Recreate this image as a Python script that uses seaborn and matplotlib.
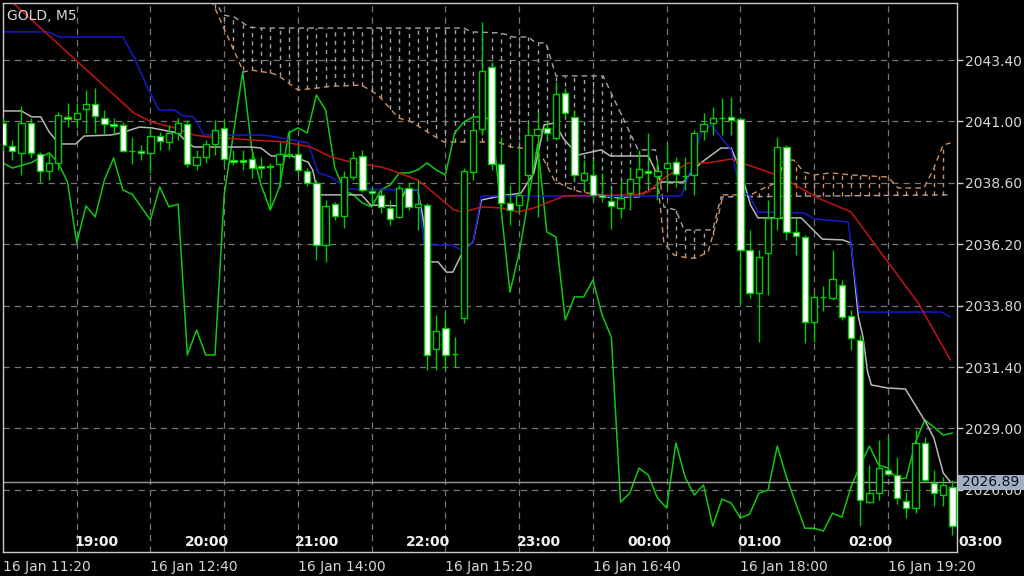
import matplotlib
matplotlib.use("Agg")
import matplotlib.pyplot as plt
import matplotlib.transforms as mtransforms
from matplotlib.patches import Rectangle
import numpy as np
import pandas as pd
import seaborn as sns

# ──────────────────────────────────────────────
# Data (one entry per 5-minute bar)
# ──────────────────────────────────────────────
opens = [2040.94, 2040.04, 2039.77, 2040.94, 2039.73, 2039.06, 2039.38, 2041.18, 2041.10, 2041.49,
         2041.68, 2041.14, 2040.90, 2040.86, 2039.85, 2039.85, 2039.77, 2040.43, 2040.20, 2040.55,
         2040.90, 2039.30, 2039.61, 2040.12, 2040.75, 2039.49, 2039.49, 2039.53, 2039.26, 2039.26,
         2039.34, 2039.69, 2039.73, 2039.06, 2038.59, 2036.17, 2037.77, 2037.30, 2038.83, 2039.65,
         2038.28, 2038.13, 2037.62, 2037.27, 2038.40, 2037.66, 2037.73, 2032.10, 2032.93, 2031.91,
         2033.32, 2039.02, 2040.71, 2043.13, 2039.34, 2037.81, 2037.73, 2038.91, 2040.47, 2040.75,
         2040.35, 2042.11, 2041.18, 2038.71, 2038.91, 2038.13, 2037.89, 2037.62, 2038.20, 2038.83,
         2039.06, 2038.87, 2039.18, 2039.41, 2038.87, 2038.91, 2040.63, 2040.94, 2041.14, 2041.18,
         2041.10, 2035.98, 2034.29, 2035.86, 2037.23, 2040.00, 2036.68, 2036.48, 2033.16, 2034.14,
         2034.10, 2034.61, 2033.39, 2032.46, 2026.12, 2026.47, 2027.37, 2027.18, 2026.16, 2025.89,
         2028.43, 2026.86, 2026.40, 2026.71]
highs = [2041.14, 2040.28, 2041.61, 2041.14, 2039.81, 2039.77, 2041.37, 2041.72, 2041.72, 2042.23,
         2042.31, 2041.45, 2041.14, 2040.98, 2040.39, 2040.08, 2040.75, 2040.59, 2040.86, 2041.14,
         2041.06, 2039.89, 2040.28, 2041.06, 2041.06, 2039.89, 2039.89, 2039.81, 2039.61, 2039.38,
         2040.20, 2040.67, 2040.08, 2039.18, 2038.71, 2037.93, 2037.85, 2039.06, 2039.85, 2039.89,
         2038.44, 2038.36, 2037.93, 2038.52, 2038.63, 2038.71, 2037.81, 2033.43, 2033.55, 2032.57,
         2039.18, 2041.14, 2044.89, 2043.33, 2040.39, 2038.52, 2039.96, 2040.94, 2041.37, 2040.98,
         2042.54, 2042.31, 2041.45, 2039.49, 2039.49, 2038.99, 2038.40, 2038.71, 2039.22, 2039.89,
         2040.55, 2039.49, 2040.08, 2039.61, 2039.61, 2040.67, 2041.33, 2041.57, 2041.92, 2041.96,
         2041.18, 2036.76, 2035.98, 2037.93, 2040.39, 2040.08, 2037.23, 2036.56, 2034.29, 2034.57,
         2035.98, 2034.80, 2033.63, 2032.65, 2027.57, 2028.55, 2028.66, 2027.88, 2026.51, 2028.94,
         2028.66, 2027.37, 2027.10, 2026.98]
lows = [2039.89, 2039.49, 2038.91, 2039.57, 2038.59, 2038.71, 2039.10, 2040.78, 2040.75, 2040.55,
        2040.55, 2040.47, 2040.47, 2039.81, 2039.34, 2039.49, 2038.99, 2039.89, 2039.89, 2040.28,
        2039.22, 2039.10, 2039.38, 2039.69, 2039.30, 2039.30, 2039.10, 2038.79, 2038.79, 2037.54,
        2038.44, 2039.57, 2038.91, 2038.48, 2035.59, 2035.51, 2037.15, 2036.84, 2038.71, 2038.24,
        2037.73, 2037.42, 2036.95, 2037.23, 2037.54, 2036.76, 2031.28, 2031.28, 2031.28, 2031.40,
        2033.12, 2038.71, 2040.47, 2039.10, 2037.54, 2036.95, 2037.46, 2037.93, 2037.27, 2040.28,
        2040.28, 2041.14, 2038.71, 2038.32, 2037.93, 2037.85, 2036.80, 2037.23, 2037.54, 2038.13,
        2038.44, 2037.93, 2038.44, 2038.44, 2038.32, 2038.13, 2040.28, 2040.47, 2040.47, 2040.47,
        2033.82, 2034.10, 2032.38, 2034.22, 2036.76, 2036.37, 2035.78, 2032.34, 2032.38, 2033.59,
        2034.02, 2033.24, 2032.07, 2025.18, 2026.08, 2026.20, 2027.14, 2026.04, 2025.50, 2025.69,
        2026.90, 2025.97, 2025.97, 2024.83]
closes = [2040.08, 2039.85, 2040.94, 2039.77, 2039.06, 2039.38, 2041.25, 2041.10, 2041.33, 2041.68,
          2041.22, 2040.90, 2040.82, 2039.85, 2039.85, 2039.77, 2040.43, 2040.24, 2040.55, 2040.94,
          2039.34, 2039.61, 2040.12, 2040.67, 2039.53, 2039.41, 2039.41, 2039.18, 2039.18, 2039.22,
          2039.73, 2039.73, 2039.10, 2038.59, 2036.17, 2037.70, 2037.30, 2038.83, 2039.57, 2038.32,
          2038.20, 2037.66, 2037.19, 2038.40, 2037.66, 2037.77, 2031.87, 2032.81, 2031.87, 2031.91,
          2039.06, 2040.67, 2042.97, 2039.34, 2037.81, 2037.54, 2038.13, 2040.47, 2040.71, 2040.55,
          2042.07, 2041.33, 2038.91, 2038.99, 2038.13, 2038.05, 2037.70, 2038.01, 2038.75, 2039.14,
          2038.99, 2039.06, 2039.38, 2038.95, 2038.87, 2040.55, 2040.90, 2041.14, 2041.14, 2041.06,
          2035.98, 2034.29, 2035.70, 2037.23, 2040.00, 2036.68, 2036.52, 2033.16, 2034.14, 2034.14,
          2034.84, 2033.36, 2032.53, 2026.20, 2026.47, 2027.45, 2027.22, 2026.28, 2025.89, 2028.43,
          2026.98, 2026.47, 2026.79, 2025.18]

# indicator lines: (bar position, price) vertices
red_bar = [0, 1.1, 14.2, 16.1, 18.6, 20.7, 22.3, 26.9, 30.5, 33.4, 35.6, 37.8, 41.0, 42.1, 45.0, 47.0,
           48.9, 50.0, 51.9, 54.0, 55.9, 57.6, 60.9, 68.5, 70.0, 71.4, 74.3, 76.5, 79.0, 81.1, 83.3,
           85.2, 88.4, 92.0, 95.6, 99.3, 102.8]
red_px = [2045.99, 2045.63, 2041.33, 2040.98, 2040.75, 2040.47, 2040.39, 2040.28, 2040.20, 2040.00,
          2039.61, 2039.41, 2039.22, 2039.10, 2038.71, 2038.13, 2037.54, 2037.46, 2037.66, 2037.62,
          2037.46, 2037.62, 2038.09, 2038.13, 2038.24, 2038.71, 2039.38, 2039.38, 2039.53, 2039.26,
          2038.99, 2038.67, 2038.01, 2037.46, 2035.70, 2033.90, 2031.67]

blue_bar = [0, 4.9, 6.1, 13.0, 14.2, 15.8, 16.9, 18.6, 19.5, 20.7, 21.8, 28.0, 29.1, 33.1, 34.2, 35.6,
            37.4, 45.0, 45.7, 48.6, 50.0, 51.0, 51.9, 73.6, 74.6, 75.7, 76.8, 79.0, 80.1, 80.9, 81.9,
            86.9, 88.0, 91.7, 92.9, 101.8, 102.8]
blue_px = [2044.50, 2044.50, 2044.30, 2044.30, 2043.52, 2042.23, 2041.45, 2041.45, 2041.22, 2041.18,
           2040.47, 2040.47, 2040.43, 2040.16, 2038.99, 2038.83, 2038.36, 2038.32, 2036.17, 2036.17,
           2035.94, 2036.29, 2038.09, 2038.09, 2039.10, 2040.55, 2040.86, 2039.89, 2038.16, 2038.16,
           2037.46, 2037.42, 2037.19, 2037.07, 2033.55, 2033.55, 2033.36]

gray_bar = [0, 2.0, 3.1, 4.1, 5.0, 6.1, 7.9, 8.8, 11.7, 12.8, 14.8, 16.1, 19.0, 19.9, 20.7, 26.9, 28.0,
            29.1, 31.3, 33.1, 33.6, 34.2, 38.9, 39.9, 42.9, 43.7, 45.0, 45.6, 46.2, 47.2, 48.1, 48.8,
            50.0, 51.0, 51.9, 54.0, 56.2, 57.6, 58.7, 59.8, 60.9, 62.4, 64.9, 65.9, 70.0, 71.1, 71.4,
            73.8, 75.7, 77.9, 79.0, 80.1, 81.1, 81.9, 86.6, 88.9, 91.1, 92.0, 92.8, 93.3, 93.8, 94.2,
            96.0, 97.9, 100.1, 101.0, 102.0, 102.8]
gray_px = [2041.41, 2041.41, 2041.18, 2041.18, 2040.59, 2040.12, 2040.12, 2040.43, 2040.47, 2040.55,
           2040.78, 2040.75, 2040.55, 2040.20, 2040.00, 2040.00, 2039.96, 2039.65, 2039.65, 2039.41,
           2039.10, 2038.13, 2038.13, 2037.73, 2037.70, 2038.32, 2038.32, 2037.15, 2035.51, 2035.51,
           2035.11, 2035.11, 2035.98, 2036.29, 2037.93, 2038.09, 2038.20, 2038.99, 2040.86, 2040.94,
           2040.28, 2039.69, 2039.89, 2039.65, 2039.65, 2038.83, 2038.63, 2038.63, 2039.38, 2039.96,
           2039.96, 2038.99, 2037.73, 2037.23, 2037.23, 2036.40, 2036.37, 2036.25, 2033.36, 2032.57,
           2031.21, 2030.70, 2030.58, 2030.54, 2029.25, 2028.62, 2027.26, 2026.90]

green_bar = [0, 1, 3, 5, 6, 7, 8, 9, 10, 11, 12, 13, 14, 16, 17, 18, 19, 20, 21, 22, 23, 24, 26, 27,
             28, 29, 30, 31, 32, 33, 34, 35, 36, 37, 38, 39, 40, 41, 42, 43, 44, 45, 46, 47, 48, 49,
             50, 51, 52, 53, 55, 56, 58, 59, 60, 61, 62, 63, 64, 65, 66, 67, 68, 69, 70, 71, 72, 73,
             74, 75, 76, 77, 78, 79, 80, 81, 82, 83, 84, 85, 86, 87, 88, 89, 90, 91, 92, 93, 94, 95,
             96, 97, 98, 99, 100, 101, 102, 103]
green_px = [2039.38, 2039.18, 2039.38, 2039.77, 2039.38, 2038.63, 2036.25, 2037.70, 2037.27, 2038.71,
            2039.57, 2038.32, 2038.16, 2037.15, 2038.44, 2037.66, 2037.77, 2031.87, 2032.85, 2031.87,
            2031.87, 2038.13, 2042.93, 2039.89, 2038.52, 2037.54, 2038.44, 2040.55, 2040.75, 2040.55,
            2042.03, 2041.45, 2039.18, 2038.32, 2038.13, 2037.81, 2037.66, 2038.32, 2038.52, 2038.99,
            2038.99, 2039.10, 2039.38, 2039.10, 2038.91, 2040.55, 2040.98, 2041.18, 2041.18, 2041.06,
            2034.33, 2035.86, 2040.08, 2036.68, 2036.48, 2033.24, 2034.14, 2034.14, 2034.80, 2033.43,
            2032.57, 2026.12, 2026.47, 2027.45, 2027.18, 2026.28, 2025.89, 2028.43, 2027.10, 2026.40,
            2026.79, 2025.18, 2026.24, 2026.08, 2025.50, 2025.65, 2026.47, 2026.59, 2028.31, 2027.10,
            2026.08, 2025.10, 2025.10, 2024.99, 2025.69, 2025.53, 2026.71, 2027.57, 2028.31, 2027.57,
            2027.45, 2027.02, 2027.06, 2028.47, 2029.33, 2029.05, 2028.74, 2028.82]

# cloud spans
span_a_bar = [22.6, 26.1, 26.9, 29.1, 29.8, 32.0, 34.2, 35.6, 38.9, 40.7, 42.9, 44.3, 47.8, 53.7, 55.1,
              56.2, 57.6, 58.7, 59.8, 61.3, 62.7, 64.9, 65.9, 69.0, 70.0, 71.1, 71.7, 72.8, 74.3, 75.2,
              76.5, 77.7, 78.1, 81.1, 82.8, 84.1, 84.7, 85.8, 86.9, 88.0, 89.8, 92.0, 96.0, 97.1, 99.9,
              100.9, 102.0, 102.8]
span_a = [2045.75, 2042.93, 2043.01, 2042.89, 2042.81, 2042.23, 2042.31, 2042.38, 2042.42, 2042.03,
          2041.14, 2040.98, 2040.20, 2040.20, 2040.00, 2039.96, 2039.89, 2039.49, 2038.71, 2038.40,
          2038.24, 2038.13, 2038.01, 2038.05, 2038.32, 2038.44, 2036.25, 2035.78, 2035.66, 2035.66,
          2035.90, 2037.46, 2038.13, 2038.13, 2038.44, 2038.63, 2039.49, 2039.49, 2039.02, 2038.91,
          2038.99, 2038.91, 2038.83, 2038.40, 2038.40, 2039.10, 2040.08, 2040.16]
span_b_bar = [22.5, 23.9, 25.1, 26.7, 28.0, 50.0, 50.8, 54.0, 55.4, 57.0, 57.8, 58.9, 60.0, 65.1, 68.9,
              70.8, 71.7, 73.0, 73.9, 77.0, 77.9, 102.8]
span_b = [2046.00, 2045.16, 2045.08, 2044.69, 2044.65, 2044.65, 2044.50, 2044.46, 2044.30, 2044.30,
          2044.07, 2044.07, 2042.78, 2042.78, 2039.89, 2039.89, 2037.66, 2037.54, 2036.76, 2036.76,
          2038.05, 2038.13]

bid_price = 2026.89
price_ticks = [2026.60, 2029.00, 2031.40, 2033.80, 2036.20, 2038.60, 2041.00, 2043.40]
date_ticks = [0, 16, 32, 48, 64, 80, 96]
date_labels = ["16 Jan 11:20", "16 Jan 12:40", "16 Jan 14:00", "16 Jan 15:20",
               "16 Jan 16:40", "16 Jan 18:00", "16 Jan 19:20"]
hour_bars = [8, 20, 32, 44, 56, 68, 80, 92, 104]
hour_labels = ["19:00", "20:00", "21:00", "22:00", "23:00", "00:00", "01:00", "02:00", "03:00"]

# ──────────────────────────────────────────────
# Style
# ──────────────────────────────────────────────
FG = "#d6d6d6"
GRID = "#767676"
CANDLE = "#00cc00"
THISTLE = "#a8a0a8"
TAN = "#cf8f62"

sns.set_theme(style="dark", rc={
    "figure.facecolor": "black",
    "axes.facecolor": "black",
    "axes.edgecolor": "#c8c8c8",
    "axes.linewidth": 1.0,
    "text.color": FG,
    "xtick.color": FG,
    "ytick.color": FG,
})
plt.rcParams["font.family"] = ["DejaVu Sans"]

fig = plt.figure(figsize=(10.24, 5.76), dpi=100)
ax = fig.add_axes([3 / 1024, (576 - 551.5) / 576, 954 / 1024, 548.5 / 576])
ax.set_xlim(0, 103.5)
ax.set_ylim(2024.19, 2045.63)

# grid
for p in price_ticks:
    ax.axhline(p, color=GRID, lw=0.9, ls=(0, (5, 4)), zorder=0.6)
for b in range(8, 104, 8):
    ax.axvline(b, color=GRID, lw=0.9, ls=(0, (5, 4)), zorder=0.6)

# cloud hatch + span lines
hb = np.arange(23, 103)
a = np.interp(hb, span_a_bar, span_a)
b = np.interp(hb, span_b_bar, span_b)
ax.vlines(hb, np.minimum(a, b), np.maximum(a, b), colors=np.where(a > b, TAN, THISTLE),
          linestyles=(0, (3, 3)), lw=1, zorder=1)
ax.plot(span_b_bar, span_b, color=THISTLE, lw=1, ls=(0, (4, 3)), zorder=1.1)
ax.plot(span_a_bar, span_a, color=TAN, lw=1, ls=(0, (4, 3)), zorder=1.1)

# indicator lines
lines = [(green_bar, green_px, "#12c812"), (gray_bar, gray_px, "#b8b8b8"),
         (blue_bar, blue_px, "#1818cc"), (red_bar, red_px, "#c41414")]
for xs, ys, col in lines:
    sns.lineplot(x=xs, y=ys, ax=ax, color=col, lw=1.1, sort=False, estimator=None, zorder=2)

# bid line
ax.axhline(bid_price, color="#9a9a9a", lw=1, zorder=2.5)

# candles
df = pd.DataFrame({"open": opens, "high": highs, "low": lows, "close": closes})
df["bar"] = np.arange(len(df))
bull = df["close"] > df["open"]
ax.vlines(df["bar"], df["low"], df["high"], color=CANDLE, lw=1, zorder=3)
ax.bar(df["bar"], (df["close"] - df["open"]).abs(), bottom=df[["open", "close"]].min(axis=1),
       width=0.68, color=np.where(bull, "black", "white"), edgecolor=CANDLE, lw=1, zorder=4)

# axes / ticks
for s in ax.spines.values():
    s.set_visible(True)
ax.yaxis.tick_right()
ax.set_yticks(price_ticks)
ax.set_yticklabels([f"{p:.2f}" for p in price_ticks])
ax.set_xticks(date_ticks)
ax.set_xticklabels(date_labels)
ax.tick_params(axis="y", length=4, width=1, pad=2, labelsize=10, color="#c8c8c8", direction="out")
ax.tick_params(axis="x", length=3, width=1, pad=3, labelsize=10, color="#c8c8c8", direction="out")
plt.setp(ax.get_xticklabels(), ha="left")
ax.set_xlabel("")
ax.set_ylabel("")
ax.grid(False)

# hour labels along the bottom
trans = mtransforms.blended_transform_factory(ax.transData, ax.transAxes)
for hb_, lab in zip(hour_bars, hour_labels):
    ax.text(hb_ - 0.3, 0.018, lab, transform=trans, ha="left", va="center", color="#f0f0f0",
            fontsize=10, fontweight="bold", clip_on=False, zorder=6)

# bid price label box (covers most of the 2026.60 label, as on the terminal)
btrans = mtransforms.blended_transform_factory(fig.transFigure, ax.transData)
ax.add_patch(Rectangle((958 / 1024, bid_price - 0.28), 66 / 1024, 0.56, transform=btrans,
                       facecolor="#9fb0c6", edgecolor="none", clip_on=False, zorder=10))
ax.text(962 / 1024, bid_price, f"{bid_price:.2f}", transform=btrans, ha="left", va="center",
        color="#101010", fontsize=10, zorder=11, clip_on=False)

fig.text(7 / 1024, 1 - 15.5 / 576, "GOLD, M5", ha="left", va="center", color=FG, fontsize=10)

fig.savefig("out.png", dpi=100, facecolor="black")
